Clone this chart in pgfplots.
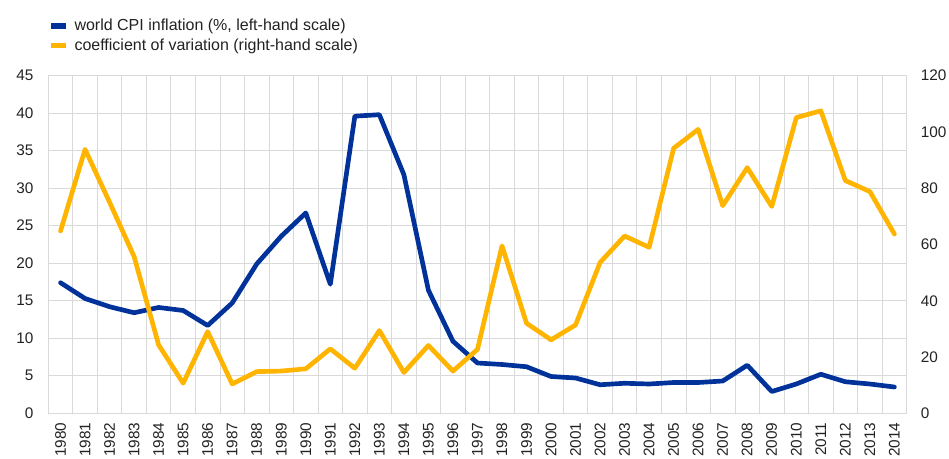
\documentclass[border=0pt]{standalone}
\usepackage{fontspec}
\setmainfont{Liberation Sans}
\usepackage{pgfplots}
\usepackage{pgfplotstable}
\pgfplotsset{compat=1.18}
\definecolor{ecbblue}{HTML}{003299}
\definecolor{ecbyellow}{HTML}{FFB400}
\definecolor{gridgray}{HTML}{D9D9D9}
\definecolor{txt}{HTML}{222222}

\pgfplotstableread{
year cpi cv
1980 17.4 64.8
1981 15.3 93.8
1982 14.2 75.0
1983 13.4 55.7
1984 14.1 24.3
1985 13.7 10.7
1986 11.7 29.0
1987 14.7 10.4
1988 19.9 14.8
1989 23.6 15.0
1990 26.7 15.8
1991 17.2 22.9
1992 39.6 16.0
1993 39.8 29.4
1994 31.8 14.5
1995 16.4 24.1
1996 9.6 15.0
1997 6.7 22.7
1998 6.5 59.5
1999 6.2 32.0
2000 4.9 26.1
2001 4.7 31.4
2002 3.8 53.6
2003 4.0 63.0
2004 3.9 59.0
2005 4.1 94.2
2006 4.1 100.9
2007 4.3 73.8
2008 6.4 87.3
2009 2.9 73.5
2010 3.9 105.1
2011 5.2 107.5
2012 4.2 82.7
2013 3.9 78.8
2014 3.5 63.7
}\datatable

\pgfplotsset{
  base/.style={
    at={(36.2pt,34.3pt)}, anchor=south west,
    scale only axis, width=643.8pt, height=253.2pt,
    xmin=1979.5, xmax=2014.5,
    font=\fontsize{11.5}{14}\selectfont,
    tick label style={text=txt},
    major tick length=0pt, minor tick length=0pt,
    /pgf/number format/assume math mode=true,
    /pgf/number format/1000 sep={},
  },
}

\begin{document}
\begin{tikzpicture}
\useasboundingbox (0,0) rectangle (711.75pt,344.25pt);
\begin{axis}[base,
  ymin=0, ymax=45, ytick={0,5,...,45},
  xtick={1980,...,2014},
  minor xtick={1979.5,1980.5,...,2014.5},
  xminorgrids, ymajorgrids,
  grid style={gridgray, line width=0.6pt},
  minor grid style={gridgray, line width=0.6pt},
  axis line style={gridgray, line width=0.6pt},
  xticklabel style={rotate=90, anchor=east, inner sep=0pt},
  xticklabel shift=7pt,
  yticklabel style={anchor=east, inner sep=0pt},
  yticklabel shift=11pt,
  legend style={draw=none, fill=none, at={(0,1.176)}, anchor=north west,
    inner sep=0pt, row sep=0.5pt, column sep=2.5pt, font=\fontsize{12}{14}\selectfont,
    cells={anchor=west, text=txt}},
  legend image code/.code={\draw[#1, line width=4pt, line cap=butt] (0pt,0pt) -- (11pt,0pt);},
]
\addplot[ecbblue, line width=3.5pt, line join=round, line cap=round] table[x=year, y=cpi] {\datatable};
\addlegendentry{world CPI inflation (\%, left-hand scale)}
\addlegendimage{ecbyellow}
\addlegendentry{coefficient of variation (right-hand scale)}
\end{axis}
\begin{axis}[base,
  ymin=0, ymax=120, ytick={0,20,...,120},
  axis y line*=right, axis x line=none,
  axis line style={gridgray, line width=0.6pt},
  yticklabel style={anchor=west, inner sep=0pt},
  yticklabel shift=10.5pt,
]
\addplot[ecbyellow, line width=3.5pt, line join=round, line cap=round] table[x=year, y=cv] {\datatable};
\end{axis}
\end{tikzpicture}
\end{document}
